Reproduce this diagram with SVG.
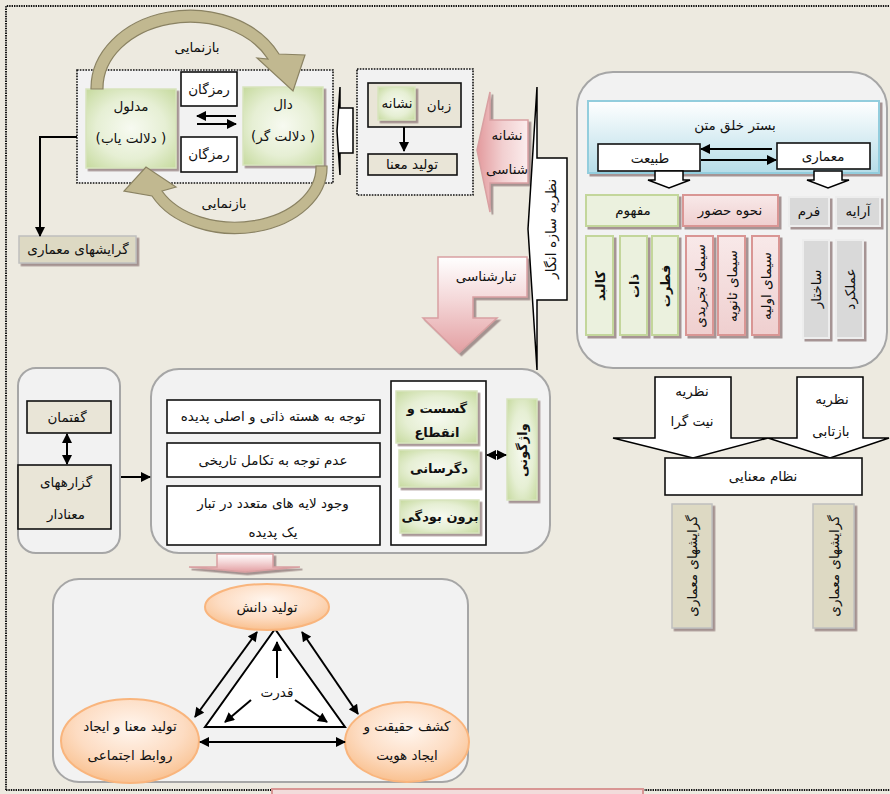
<svg xmlns="http://www.w3.org/2000/svg" width="890" height="794" viewBox="0 0 890 794">
  <defs>
    <style>
      .t { font-family: "DejaVu Sans", "Noto Sans", sans-serif; font-size: 13.5px; fill: #111; text-anchor: middle; direction: rtl; }
      .b { font-weight: bold; font-size: 13px; }
      .panel { fill: #F2F2F2; stroke: #A6A6A6; stroke-width: 2; }
      .dot { fill: #F2F2F2; stroke: #111; stroke-width: 1.6; stroke-dasharray: 1.6 1.2; }
      .wbox { fill: #FFFFFF; stroke: #111; stroke-width: 1.6; }
      .beige { fill: #E9E5D7; stroke: #111; stroke-width: 1.6; }
      .tag { fill: #DDD9C3; stroke: #BFBFBF; stroke-width: 1.5; filter: url(#sh); }
      .green { fill: url(#gg); stroke: #D7E4BD; stroke-width: 1.5; filter: url(#sh); }
      .lgreen { fill: #EBF1DE; stroke: #C3D69B; stroke-width: 2; filter: url(#sh); }
      .pink { fill: url(#pg); stroke: #D99694; stroke-width: 2; filter: url(#sh); }
      .grey { fill: #D9D9D9; stroke: #EDEDED; stroke-width: 2; filter: url(#sh); }
      .ell { fill: url(#og); stroke: #F9B57D; stroke-width: 2; }
      .ln { fill: none; stroke: #000; stroke-width: 2; }
      .blk { fill: #FFFFFF; stroke: #000; stroke-width: 1.5; }
      .curve { fill: #C1B890; stroke: #8A8262; stroke-width: 1.2; }
      .parr { stroke: #D9A0A2; stroke-width: 1.5; filter: url(#sh); }
    </style>
    <filter id="sh" x="-20%" y="-20%" width="140%" height="140%">
      <feDropShadow dx="2.5" dy="2.5" stdDeviation="0.6" flood-color="#8C7474" flood-opacity="0.75"/>
    </filter>
    <radialGradient id="gg" cx="50%" cy="50%" r="70%">
      <stop offset="0" stop-color="#F7FAF1"/>
      <stop offset="0.55" stop-color="#E6EFD4"/>
      <stop offset="1" stop-color="#C6DA9E"/>
    </radialGradient>
    <linearGradient id="pg" x1="0" y1="0" x2="0" y2="1">
      <stop offset="0" stop-color="#F8E9E9"/>
      <stop offset="1" stop-color="#EFCFCF"/>
    </linearGradient>
    <linearGradient id="blue" x1="0" y1="0" x2="0" y2="1">
      <stop offset="0" stop-color="#FFFFFF"/>
      <stop offset="1" stop-color="#B6DDE8"/>
    </linearGradient>
    <radialGradient id="og" cx="50%" cy="35%" r="65%">
      <stop offset="0" stop-color="#FFF6EF"/>
      <stop offset="0.6" stop-color="#FDDCC2"/>
      <stop offset="1" stop-color="#F9C190"/>
    </radialGradient>
    <linearGradient id="pl" x1="0" y1="0" x2="1" y2="0">
      <stop offset="0" stop-color="#E39A9D"/>
      <stop offset="0.5" stop-color="#F2CFD0"/>
      <stop offset="1" stop-color="#FBEDED"/>
    </linearGradient>
    <linearGradient id="pd" x1="0" y1="0" x2="0" y2="1">
      <stop offset="0" stop-color="#FFFFFF"/>
      <stop offset="0.45" stop-color="#F4D7D8"/>
      <stop offset="1" stop-color="#E39FA2"/>
    </linearGradient>
    <marker id="ah" viewBox="0 0 10 10" refX="9" refY="5" markerWidth="11" markerHeight="10" markerUnits="userSpaceOnUse" orient="auto-start-reverse">
      <path d="M0,0 L10,5 L0,10 z" fill="#000"/>
    </marker>
  </defs>

  <!-- page -->
  <rect x="0" y="0" width="890" height="794" fill="#EDEAE0"/>
  <g id="frame" fill="none" stroke="#111" stroke-width="2" stroke-dasharray="1.4 1">
    <path d="M6,790 V6 H890"/>
    <path d="M6,790 H272 M643,790 H890"/>
  </g>
  <rect id="footer-box" x="272" y="789" width="371" height="20" fill="#F2DCDB" stroke="#D99694" stroke-width="2"/>

  <!-- signifier / signified cluster -->
  <g id="sign-cluster">
    <rect class="dot" x="77" y="70" width="256" height="113"/>
  </g>
  <g id="madlul">
    <rect class="green" x="86" y="89" width="90" height="79"/>
    <text class="t" x="131" y="111">مدلول</text>
    <text class="t" x="131" y="143">( دلالت یاب)</text>
  </g>
  <g id="dal">
    <rect class="green" x="243" y="87" width="80" height="78"/>
    <text class="t" x="283" y="109">دال</text>
    <text class="t" x="283" y="141">( دلالت گر)</text>
  </g>
  <g id="ramzgan-1">
    <rect class="wbox" x="181" y="72" width="56" height="34"/>
    <text class="t" x="209" y="94">رمزگان</text>
  </g>
  <g id="ramzgan-2">
    <rect class="wbox" x="181" y="137" width="56" height="35"/>
    <text class="t" x="209" y="159">رمزگان</text>
  </g>
  <g id="baznamaei-top">
    <path class="curve" d="M91,89 A99,78 0 0 1 279,54 L305,55 L293,91 L257,58 L268,59 A87,66 0 0 0 103,89 Z"/>
    <text class="t" x="197" y="52">بازنمایی</text>
  </g>
  <g id="baznamaei-bottom">
    <path class="curve" d="M327,166 A92,66 0 0 1 152,196 L124,191 L146,167 L176,187 L162,191 A81,55 0 0 0 316,166 Z"/>
    <text class="t" x="224" y="208">بازنمایی</text>
  </g>
  <g id="gerayesh-1">
    <rect class="tag" x="19" y="236" width="117" height="27"/>
    <text class="t" x="78" y="254">گرایشهای معماری</text>
  </g>

  <!-- language of signs -->
  <g id="sign-lang-back">
    <path class="blk" d="M340,87 V108 H353 V153 H340 V175 L337,131 Z"/>
  </g>
  <g id="sign-lang">
    <rect class="dot" x="357" y="69" width="116" height="126"/>
    <rect class="beige" x="368" y="83" width="93" height="44"/>
    <rect class="green" x="378" y="87" width="37" height="33"/>
    <text class="t" x="397" y="108">نشانه</text>
    <text class="t" x="439" y="110">زبان</text>
  </g>
  <g id="meaning">
    <rect class="beige" x="368" y="154" width="89" height="21"/>
    <text class="t" x="412" y="169">تولید معنا</text>
  </g>
  <g id="semiotics">
    <path class="parr" fill="url(#pl)" d="M528,120 H490 V92 L477,150 L490,212 V183 H528 Z"/>
    <text class="t" x="507" y="140">نشانه</text>
    <text class="t" x="507" y="174">شناسی</text>
  </g>
  <g id="genealogy">
    <path class="parr" fill="url(#pd)" d="M527,257 H438 V318 H423 L459,353 L497,318 H473 V297 H527 Z"/>
    <text class="t" x="486" y="281">تبارشناسی</text>
  </g>
  <g id="constructivism">
    <path class="blk" d="M537,87 V158 H567 V300 H537 V370 L528,229 Z"/>
    <text class="t" transform="translate(551,229) rotate(-90)" x="0" y="5" style="font-size:14px">نظریه سازه انگار</text>
  </g>

  <!-- context panel -->
  <g id="context-panel">
    <rect class="panel" x="577" y="72" width="310" height="296" rx="36"/>
  </g>
  <g id="context">
    <rect x="588" y="101" width="291" height="72" fill="url(#blue)" stroke="#93CDDD" stroke-width="2" filter="url(#sh)"/>
    <text class="t" x="735" y="130">بستر خلق متن</text>
  </g>
  <g id="nature">
    <rect class="wbox" x="598" y="144" width="102" height="27"/>
    <text class="t" x="650" y="163">طبیعت</text>
  </g>
  <g id="architecture">
    <rect class="wbox" x="777" y="143" width="93" height="26"/>
    <text class="t" x="823" y="161">معماری</text>
  </g>
  <g id="nature-down">
    <path class="blk" d="M655,171 V180 H648 L669,188 L690,180 H683 V171 Z"/>
  </g>
  <g id="architecture-down">
    <path class="blk" d="M814,171 V180 H807 L828,188 L849,180 H842 V171 Z"/>
  </g>
  <g id="mafhum">
    <rect class="lgreen" x="586" y="195" width="92" height="31"/>
    <text class="t" x="633" y="215">مفهوم</text>
  </g>
  <g id="hozur">
    <rect class="pink" x="683" y="195" width="95" height="31"/>
    <text class="t" x="730" y="215">نحوه حضور</text>
  </g>
  <g id="form">
    <rect class="grey" x="789" y="197" width="40" height="29"/>
    <text class="t" x="809" y="216">فرم</text>
  </g>
  <g id="araye">
    <rect class="grey" x="836" y="197" width="44" height="29"/>
    <text class="t" x="858" y="216">آرایه</text>
  </g>
  <g id="kalbad">
    <rect class="lgreen" x="586" y="236" width="27" height="99"/>
    <text class="t b" transform="translate(599.5,286) rotate(-90)" x="0" y="5">کالبد</text>
  </g>
  <g id="zat">
    <rect class="lgreen" x="620" y="236" width="27" height="99"/>
    <text class="t b" transform="translate(633.5,286) rotate(-90)" x="0" y="5">ذات</text>
  </g>
  <g id="fetrat">
    <rect class="lgreen" x="652" y="236" width="26" height="99"/>
    <text class="t b" transform="translate(665,286) rotate(-90)" x="0" y="5">فطرت</text>
  </g>
  <g id="sima-tajridi">
    <rect class="pink" x="686" y="236" width="27" height="99"/>
    <text class="t" transform="translate(699.5,286) rotate(-90)" x="0" y="5">سیمای تجریدی</text>
  </g>
  <g id="sima-sanaviye">
    <rect class="pink" x="718" y="236" width="27" height="99"/>
    <text class="t" transform="translate(731.5,286) rotate(-90)" x="0" y="5">سیمای ثانویه</text>
  </g>
  <g id="sima-avaliye">
    <rect class="pink" x="752" y="236" width="27" height="99"/>
    <text class="t" transform="translate(765.5,286) rotate(-90)" x="0" y="5">سیمای اولیه</text>
  </g>
  <g id="sakhtar">
    <rect class="grey" x="803" y="240" width="26" height="98"/>
    <text class="t" transform="translate(816,289) rotate(-90)" x="0" y="5">ساختار</text>
  </g>
  <g id="amalkard">
    <rect class="grey" x="836" y="240" width="27" height="98"/>
    <text class="t" transform="translate(849.5,289) rotate(-90)" x="0" y="5">عملکرد</text>
  </g>

  <!-- theories -->
  <g id="intentional">
    <path class="blk" d="M655,377 H731 V438 H768 L693,458 L613,438 H655 Z"/>
    <text class="t" x="692" y="396">نظریه</text>
    <text class="t" x="692" y="426">نیت گرا</text>
  </g>
  <g id="reflective">
    <path class="blk" d="M797,377 H863 V438 H889 L830,458 L768,438 H797 Z"/>
    <text class="t" x="832" y="404">نظریه</text>
    <text class="t" x="831" y="436">بازتابی</text>
  </g>
  <g id="meaning-system">
    <rect class="wbox" x="665" y="458" width="197" height="37"/>
    <text class="t" x="763" y="481">نظام معنایی</text>
  </g>
  <g id="gerayesh-2">
    <rect class="tag" x="672" y="504" width="40" height="124"/>
    <text class="t" transform="translate(692,566) rotate(-90)" x="0" y="5">گرایشهای معماری</text>
  </g>
  <g id="gerayesh-3">
    <rect class="tag" x="813" y="504" width="41" height="124"/>
    <text class="t" transform="translate(833.5,566) rotate(-90)" x="0" y="5">گرایشهای معماری</text>
  </g>

  <!-- discourse -->
  <g id="discourse-panel">
    <rect class="panel" x="18" y="368" width="102" height="185" rx="18"/>
  </g>
  <g id="discourse">
    <rect class="beige" x="27" y="401" width="84" height="32"/>
    <text class="t" x="67" y="422">گفتمان</text>
  </g>
  <g id="statements">
    <rect class="beige" x="18" y="465" width="93" height="64"/>
    <text class="t" x="66" y="487">گزارههای</text>
    <text class="t" x="66" y="519">معنادار</text>
  </g>

  <!-- genealogy features -->
  <g id="genealogy-panel">
    <rect class="panel" x="151" y="369" width="399" height="184" rx="28"/>
  </g>
  <g id="f-core">
    <rect class="wbox" x="167" y="400" width="213" height="33"/>
    <text class="t" x="273" y="421">توجه به هسته ذاتی و اصلی پدیده</text>
  </g>
  <g id="f-history">
    <rect class="wbox" x="167" y="443" width="213" height="34"/>
    <text class="t" x="273" y="465">عدم توجه به تکامل تاریخی</text>
  </g>
  <g id="f-layers">
    <rect class="wbox" x="167" y="486" width="213" height="59"/>
    <text class="t" x="273" y="508">وجود لایه های متعدد در تبار</text>
    <text class="t" x="273" y="537">یک پدیده</text>
  </g>
  <g id="f-group">
    <rect class="wbox" x="391" y="381" width="95" height="164"/>
  </g>
  <g id="gosast">
    <rect class="green" x="396" y="391" width="81" height="52"/>
    <text class="t b" x="437" y="413">گسست و</text>
    <text class="t b" x="437" y="437">انقطاع</text>
  </g>
  <g id="degarsani">
    <rect class="green" x="399" y="450" width="80" height="37"/>
    <text class="t b" x="439" y="473">دگرسانی</text>
  </g>
  <g id="borunbudegi">
    <rect class="green" x="400" y="500" width="79" height="33"/>
    <text class="t b" x="440" y="521">برون بودگی</text>
  </g>
  <g id="vajguni">
    <rect class="green" x="507" y="399" width="30" height="101"/>
    <text class="t b" transform="translate(522,450) rotate(-90)" x="0" y="5">واژگونی</text>
  </g>
  <g id="down-arrow">
    <path class="parr" fill="url(#pd)" d="M217,554 H273 V567 H300 L245,572 L189,567 H217 Z"/>
  </g>

  <!-- power triangle -->
  <g id="power-panel">
    <rect class="panel" x="53" y="579" width="415" height="203" rx="26"/>
  </g>
  <g id="power">
    <path d="M275,629 L345,727 L205,727 Z" fill="#FFFFFF" stroke="#000" stroke-width="2"/>
    <text class="t" x="277" y="697">قدرت</text>
  </g>
  <g id="knowledge">
    <ellipse class="ell" cx="267" cy="607" rx="62" ry="23"/>
    <text class="t" x="267" y="612">تولید دانش</text>
  </g>
  <g id="social">
    <ellipse class="ell" cx="130" cy="741" rx="69" ry="42"/>
    <text class="t" x="130" y="731">تولید معنا و ایجاد</text>
    <text class="t" x="130" y="760">روابط اجتماعی</text>
  </g>
  <g id="identity">
    <ellipse class="ell" cx="407" cy="742" rx="62" ry="40"/>
    <text class="t" x="407" y="731">کشف حقیقت و</text>
    <text class="t" x="407" y="760">ایجاد هویت</text>
  </g>

  <!-- connectors -->
  <g id="connectors" class="ln">
    <path d="M236,116 H197" marker-end="url(#ah)"/>
    <path d="M197,124 H236" marker-end="url(#ah)"/>
    <path d="M77,137 H40 V236" marker-end="url(#ah)"/>
    <path d="M404,127 V151" marker-end="url(#ah)"/>
    <path d="M772,149 H701" marker-end="url(#ah)"/>
    <path d="M701,160 H776" marker-end="url(#ah)"/>
    <path d="M67,434 V464" marker-start="url(#ah)" marker-end="url(#ah)"/>
    <path d="M121,477 H150" marker-end="url(#ah)"/>
    <path d="M487,455 H506" marker-start="url(#ah)" marker-end="url(#ah)"/>
    <path d="M257,632 L195,717" marker-start="url(#ah)" marker-end="url(#ah)"/>
    <path d="M302,632 L358,714" marker-start="url(#ah)" marker-end="url(#ah)"/>
    <path d="M200,742 H345" marker-start="url(#ah)" marker-end="url(#ah)"/>
    <path d="M277,678 V642" marker-end="url(#ah)"/>
    <path d="M251,700 L225,722" marker-end="url(#ah)"/>
    <path d="M295,700 L327,722" marker-end="url(#ah)"/>
  </g>
</svg>
